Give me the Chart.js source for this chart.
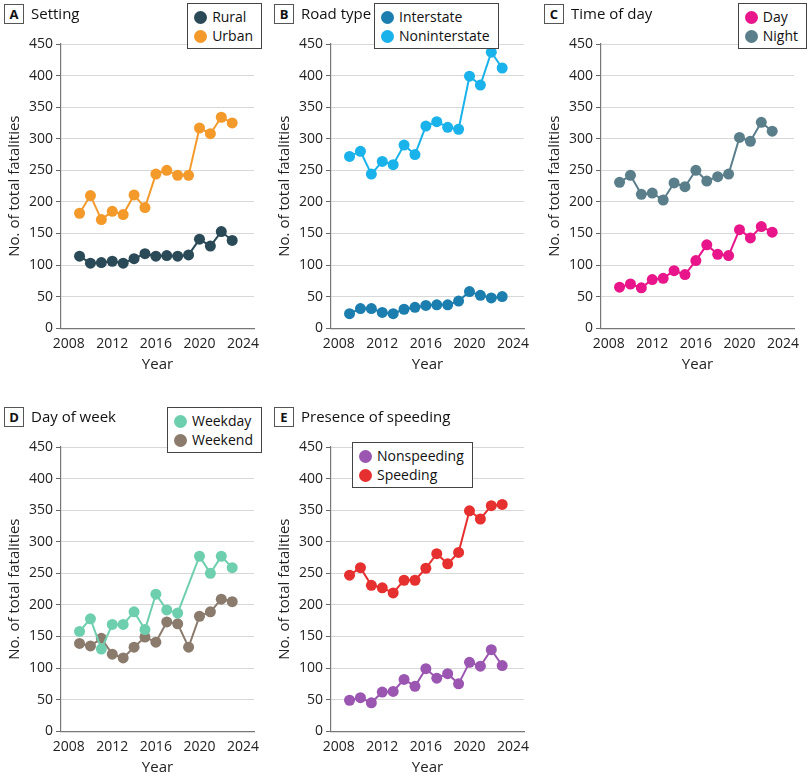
<!DOCTYPE html>
<html><head><meta charset="utf-8">
<script src="https://cdn.jsdelivr.net/npm/chart.js@4"></script>
<style>
body{margin:0;background:#fff;font-family:"Open Sans",sans-serif;overflow:hidden;}
.p{position:absolute;width:270px;height:380px;}
.p canvas{position:absolute;left:0;top:0;}
.tag{position:absolute;left:4px;top:4px;width:18px;height:18px;border:1px solid #555;font-weight:bold;font-size:13px;text-align:center;line-height:18px;color:#111;background:#fff;}
.ttl{position:absolute;left:31px;top:3px;font-size:15px;color:#111;}
.lg{position:absolute;border:1px solid #444;background:#fff;padding:3px 8px 3px 6px;font-size:14px;color:#111;line-height:19px;z-index:2;}
.dot{display:inline-block;width:13px;height:13px;border-radius:50%;vertical-align:-2px;margin-right:5px;}
</style></head><body>
<script>
const years=[2009,2010,2011,2012,2013,2014,2015,2016,2017,2018,2019,2020,2021,2022,2023];
const rural=[114,103,104,106,103,110,118,114,115,114,116,141,130,153,139];
const urban=[182,210,172,185,180,211,191,244,250,242,242,317,308,334,325];
const interstate=[23,31,31,25,23,30,33,36,37,37,43,58,52,48,50];
const noninterstate=[272,280,244,264,259,290,275,320,327,318,315,399,385,437,412];
const day=[65,70,64,77,79,91,85,107,132,117,115,156,143,161,152];
const night=[231,242,212,214,203,230,224,250,233,240,244,302,296,326,312];
const weekday=[158,178,130,169,169,189,161,217,192,187,null,277,250,277,259];
const weekend=[139,135,147,122,116,133,149,141,173,170,133,182,189,209,205];
const nonspeeding=[49,53,45,62,63,82,71,99,84,91,75,109,103,129,104];
const speeding=[247,259,231,227,219,239,239,258,281,265,283,349,336,357,359];
const xTicks=[2008,2012,2016,2020,2024];
const yTicks=[0,50,100,150,200,250,300,350,400,450];

const panels=[
 {tag:'A',title:'Setting',x:0,y:0,s:[['Rural',rural,'#2a4a57'],['Urban',urban,'#f39a2b']],lg:{right:8,top:3}},
 {tag:'B',title:'Road type',x:270,y:0,s:[['Interstate',interstate,'#1b7eae'],['Noninterstate',noninterstate,'#1ab2ea']],lg:{left:104,top:3}},
 {tag:'C',title:'Time of day',x:540,y:0,s:[['Day',day,'#e8168a'],['Night',night,'#5a7f8b']],lg:{right:3,top:3}},
 {tag:'D',title:'Day of week',x:0,y:403,s:[['Weekday',weekday,'#6dcfae'],['Weekend',weekend,'#8a7b6d']],lg:{right:8,top:4}},
 {tag:'E',title:'Presence of speeding',x:270,y:403,s:[['Nonspeeding',nonspeeding,'#9a56b0'],['Speeding',speeding,'#e6302f']],lg:{left:82,top:39}}
];
panels.forEach(p=>{
 const d=document.createElement('div');d.className='p';d.style.left=p.x+'px';d.style.top=p.y+'px';
 const pos=Object.entries(p.lg).map(([k,v])=>k+':'+v+'px').join(';');
 const lgs='<div class="lg" style="'+pos+'">'+p.s.map(s=>'<div><span class="dot" style="background:'+s[2]+'"></span>'+s[0]+'</div>').join('')+'</div>';
 d.innerHTML='<canvas width="270" height="380"></canvas><div class="tag">'+p.tag+'</div><div class="ttl">'+p.title+'</div>'+lgs;
 document.body.appendChild(d);
 new Chart(d.querySelector('canvas'),{type:'line',
  data:{datasets:p.s.map(s=>({label:s[0],data:years.map((yr,i)=>({x:yr,y:s[1][i]})),borderColor:s[2],backgroundColor:s[2],pointBorderWidth:0,borderWidth:2,spanGaps:true,pointRadius:(c)=>c.raw&&c.raw.y==null?0:5.5}))},
  options:{responsive:false,animation:false,layout:{padding:{top:44,right:16,left:2,bottom:2}},
   plugins:{legend:{display:false},tooltip:{enabled:false}},
   scales:{
    x:{type:'linear',min:2007.3,max:2025,afterBuildTicks:a=>{a.ticks=xTicks.map(v=>({value:v}))},
     grid:{display:false,drawTicks:true,tickLength:5,color:'#666'},border:{color:'#777',width:1.2},
     ticks:{color:'#222',font:{size:14,family:'Open Sans'},maxRotation:0,padding:2,callback:v=>String(v)},
     title:{display:true,text:'Year',color:'#222',font:{size:15,family:'Open Sans'},padding:{top:2}}},
    y:{min:0,max:450,afterBuildTicks:a=>{a.ticks=yTicks.map(v=>({value:v}))},
     grid:{color:'#d8d8d8',tickLength:5,tickColor:'#666'},border:{color:'#777',width:1.2},
     ticks:{color:'#222',font:{size:14,family:'Open Sans'},padding:3},
     title:{display:true,text:'No. of total fatalities',color:'#222',font:{size:15,family:'Open Sans'},padding:{bottom:2}}}
   }}});
});
</script>
</body></html>
